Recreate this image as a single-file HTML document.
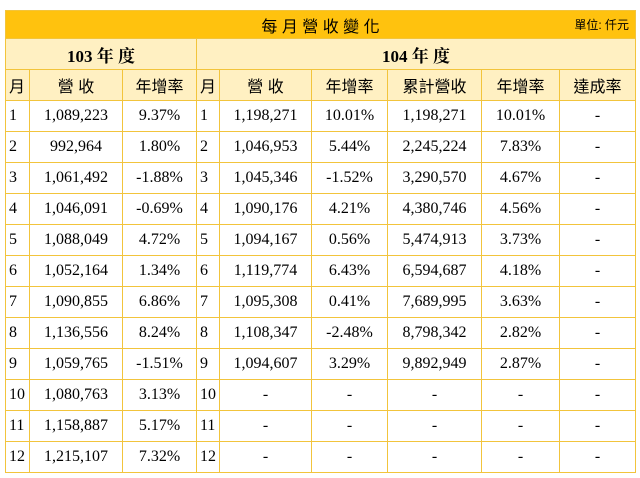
<!DOCTYPE html>
<html><head><meta charset="utf-8">
<style>
body{margin:0;width:640px;height:478px;background:#fff;position:relative;overflow:hidden;font-family:"Liberation Serif","Noto Serif CJK TC","Noto Sans CJK TC",serif;font-size:16px;color:#000}
.c{position:absolute;box-sizing:border-box;border:1px solid #F2C43C;display:flex;align-items:center;justify-content:center;white-space:nowrap}
.l{justify-content:flex-start;padding-left:3px}
</style></head>
<body>
<div id="root"></div>
<script>
const xs=[5,29,122,196,219,311,387,481,559,635];
const rev103=["1,089,223","992,964","1,061,492","1,046,091","1,088,049","1,052,164","1,090,855","1,136,556","1,059,765","1,080,763","1,158,887","1,215,107"];
const yoy103=["9.37%","1.80%","-1.88%","-0.69%","4.72%","1.34%","6.86%","8.24%","-1.51%","3.13%","5.17%","7.32%"];
const rev104=["1,198,271","1,046,953","1,045,346","1,090,176","1,094,167","1,119,774","1,095,308","1,108,347","1,094,607","-","-","-"];
const yoy104=["10.01%","5.44%","-1.52%","4.21%","0.56%","6.43%","0.41%","-2.48%","3.29%","-","-","-"];
const cum104=["1,198,271","2,245,224","3,290,570","4,380,746","5,474,913","6,594,687","7,689,995","8,798,342","9,892,949","-","-","-"];
const cumYoy=["10.01%","7.83%","4.67%","4.56%","3.73%","4.18%","3.63%","2.82%","2.87%","-","-","-"];
const root=document.getElementById('root');
function cell(x0,x1,y0,y1,txt,bg,name,extra){
  const d=document.createElement('div');
  d.className='c'+(extra||'');
  d.style.left=x0+'px';d.style.top=y0+'px';
  d.style.width=(x1-x0+1)+'px';d.style.height=(y1-y0+1)+'px';
  d.style.background=bg;
  d.textContent=txt;
  
  
  root.appendChild(d);return d;
}
const t=cell(5,635,10,38,'每 月 營 收 變 化','#FFC20E','table-title');
t.style.fontFamily='"Liberation Sans","Noto Sans CJK TC",sans-serif';
const u=document.createElement('span');
u.textContent='單位: 仟元';
u.style.cssText='position:absolute;right:6px;font-size:12px;font-family:"Liberation Sans","Noto Sans CJK TC",sans-serif';


t.appendChild(u);
const h1=cell(5,196,38,69,'103 年 度','#FFF0C2','year-103-header');h1.style.fontWeight='bold';h1.style.fontSize='17px';
const h2=cell(196,635,38,69,'104 年 度','#FFF0C2','year-104-header');h2.style.fontWeight='bold';h2.style.fontSize='17px';
const heads=['月','營 收','年增率','月','營 收','年增率','累計營收','年增率','達成率'];
for(let i=0;i<9;i++){const h=cell(xs[i],xs[i+1],69,100,heads[i],'#FFF0C2','column-header',i==0||i==3?' l':'');
 h.style.fontFamily='"Liberation Sans","Noto Sans CJK TC",sans-serif';h.style.fontSize='16px';}
for(let r=0;r<12;r++){
  const y0=100+r*31,y1=y0+31;
  const vals=[String(r+1),rev103[r],yoy103[r],String(r+1),rev104[r],yoy104[r],cum104[r],cumYoy[r],'-'];
  for(let i=0;i<9;i++) cell(xs[i],xs[i+1],y0,y1,vals[i],'#fff','data-cell',i==0||i==3?' l':'');
}
</script>
</body></html>
